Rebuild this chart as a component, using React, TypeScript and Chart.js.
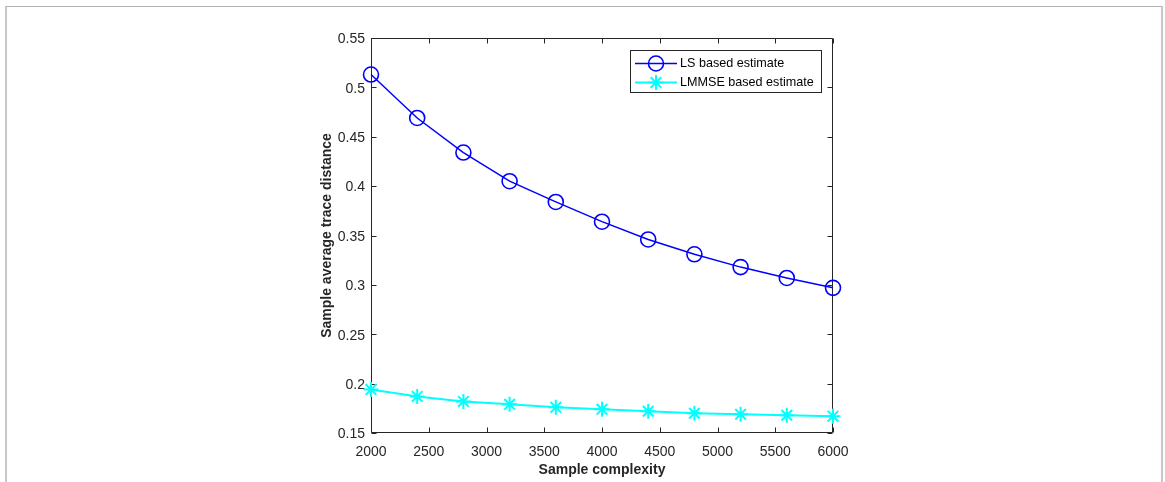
import React, { useEffect, useRef } from "react";
import { Chart, registerables } from "chart.js";

Chart.register(...registerables);

const sampleComplexity = [2000, 2400, 2800, 3200, 3600, 4000, 4400, 4800, 5200, 5600, 6000];
const lsEstimate = [0.513, 0.469, 0.434, 0.405, 0.384, 0.364, 0.346, 0.331, 0.318, 0.307, 0.297];
const lmmseEstimate = [0.194, 0.187, 0.182, 0.179, 0.176, 0.174, 0.172, 0.170, 0.169, 0.168, 0.167];
const seriesLabels = ["LS based estimate", "LMMSE based estimate"];
const xTitle = "Sample complexity";
const yTitle = "Sample average trace distance";

const AXIS_COLOR = "#262626";
const FONT = "'Liberation Sans', Arial, Helvetica, sans-serif";

const boxPlugin = {
  id: "matlabBox",
  beforeDatasetsDraw(chart: any) {
    const { ctx, chartArea } = chart;
    const l = Math.round(chartArea.left) + 0.5;
    const r = Math.round(chartArea.right) - 0.5;
    const t = Math.round(chartArea.top) + 0.5;
    const b = Math.round(chartArea.bottom) - 0.5;
    ctx.save();
    ctx.strokeStyle = AXIS_COLOR;
    ctx.lineWidth = 1;
    ctx.beginPath();
    ctx.rect(l, t, r - l, b - t);
    const tl = 5;
    const xs = chart.scales.x;
    xs.ticks.forEach((tk: any) => {
      const px = Math.round(xs.getPixelForValue(tk.value)) + 0.5;
      ctx.moveTo(px, b);
      ctx.lineTo(px, b - tl);
      ctx.moveTo(px, t);
      ctx.lineTo(px, t + tl);
    });
    const ys = chart.scales.y;
    ys.ticks.forEach((tk: any) => {
      const py = Math.round(ys.getPixelForValue(tk.value)) + 0.5;
      ctx.moveTo(l, py);
      ctx.lineTo(l + tl, py);
      ctx.moveTo(r, py);
      ctx.lineTo(r - tl, py);
    });
    ctx.stroke();
    ctx.restore();
  },
};

const legendPlugin = {
  id: "matlabLegend",
  afterDraw(chart: any) {
    const { ctx } = chart;
    const bx = 630.5, by = 50.5, bw = 191, bh = 42;
    ctx.save();
    ctx.fillStyle = "#ffffff";
    ctx.fillRect(bx, by, bw, bh);
    ctx.strokeStyle = AXIS_COLOR;
    ctx.lineWidth = 1;
    ctx.strokeRect(bx, by, bw, bh);
    const rows = [63.5, 82.5];
    chart.data.datasets.forEach((ds: any, i: number) => {
      const y = rows[i];
      ctx.strokeStyle = ds.borderColor;
      ctx.lineWidth = ds.borderWidth;
      ctx.beginPath();
      ctx.moveTo(635, y);
      ctx.lineTo(677, y);
      ctx.stroke();
      const cx = 656;
      const rr = ds.pointRadius;
      ctx.lineWidth = ds.pointBorderWidth;
      ctx.beginPath();
      if (ds.pointStyle === "circle") {
        ctx.arc(cx, y, rr, 0, Math.PI * 2);
      } else {
        for (let k = 0; k < 4; k++) {
          const a = (k * Math.PI) / 4;
          ctx.moveTo(cx - rr * Math.cos(a), y - rr * Math.sin(a));
          ctx.lineTo(cx + rr * Math.cos(a), y + rr * Math.sin(a));
        }
      }
      ctx.stroke();
      ctx.fillStyle = "#000000";
      ctx.font = `12.6px ${FONT}`;
      ctx.textBaseline = "middle";
      ctx.textAlign = "left";
      ctx.fillText(ds.label, 680, y);
    });
    ctx.restore();
  },
};

export default function App() {
  const ref = useRef<HTMLCanvasElement | null>(null);

  useEffect(() => {
    if (!ref.current) return;
    const chart = new Chart(ref.current, {
      type: "line",
      data: {
        datasets: [
          {
            label: seriesLabels[0],
            data: sampleComplexity.map((x, i) => ({ x, y: lsEstimate[i] })),
            borderColor: "#0000ff",
            backgroundColor: "rgba(0,0,0,0)",
            borderWidth: 1.5,
            pointStyle: "circle",
            pointRadius: 7.5,
            pointBorderWidth: 1.6,
            pointBackgroundColor: "rgba(0,0,0,0)",
            pointBorderColor: "#0000ff",
            tension: 0,
            clip: false,
          } as any,
          {
            label: seriesLabels[1],
            data: sampleComplexity.map((x, i) => ({ x, y: lmmseEstimate[i] })),
            borderColor: "#00ffff",
            backgroundColor: "rgba(0,0,0,0)",
            borderWidth: 2,
            pointStyle: "star",
            pointRadius: 7.5,
            pointBorderWidth: 2,
            pointBackgroundColor: "rgba(0,0,0,0)",
            pointBorderColor: "#00ffff",
            tension: 0,
            clip: false,
          } as any,
        ],
      },
      options: {
        responsive: false,
        animation: false,
        devicePixelRatio: 1,
        layout: { padding: { left: 300, right: 332, top: 38, bottom: 0 } },
        plugins: {
          legend: { display: false },
          tooltip: { enabled: false },
        },
        scales: {
          x: {
            type: "linear",
            min: 2000,
            max: 6000,
            afterFit: (s: any) => {
              s.height = 49;
            },
            grid: { display: false, drawTicks: false },
            border: { display: false },
            ticks: {
              stepSize: 500,
              padding: 11,
              color: AXIS_COLOR,
              font: { family: FONT, size: 14 },
              maxRotation: 0,
              callback: (v: any) => String(v),
            },
            title: {
              display: true,
              text: xTitle,
              color: AXIS_COLOR,
              font: { family: FONT, size: 14, weight: "bold" },
              padding: { top: 0, bottom: 3 },
            },
          },
          y: {
            type: "linear",
            min: 0.15,
            max: 0.55,
            afterFit: (s: any) => {
              s.width = 71;
            },
            grid: { display: false, drawTicks: false },
            border: { display: false },
            ticks: {
              stepSize: 0.05,
              padding: 6,
              labelOffset: 1.5,
              color: AXIS_COLOR,
              font: { family: FONT, size: 14 },
              callback: (v: any) => String(parseFloat(Number(v).toFixed(2))),
            },
            title: {
              display: true,
              text: yTitle,
              color: AXIS_COLOR,
              font: { family: FONT, size: 14, weight: "bold" },
              padding: { top: 19, bottom: 0 },
            },
          },
        },
      } as any,
      plugins: [boxPlugin, legendPlugin],
    });
    return () => chart.destroy();
  }, []);

  return (
    <div style={{ position: "absolute", left: 0, top: 0, width: 1165, height: 482, background: "#fff", overflow: "hidden" }}>
      <div
        style={{
          position: "absolute",
          left: 5,
          top: 6,
          width: 1158,
          height: 476,
          boxSizing: "border-box",
          borderLeft: "2px solid #c8c8c8",
          borderRight: "2px solid #c8c8c8",
          borderTop: "1px solid #b0b0b0",
        }}
      />
      <canvas ref={ref} width={1165} height={482} style={{ position: "absolute", left: 0, top: 0, width: 1165, height: 482 }} />
    </div>
  );
}
